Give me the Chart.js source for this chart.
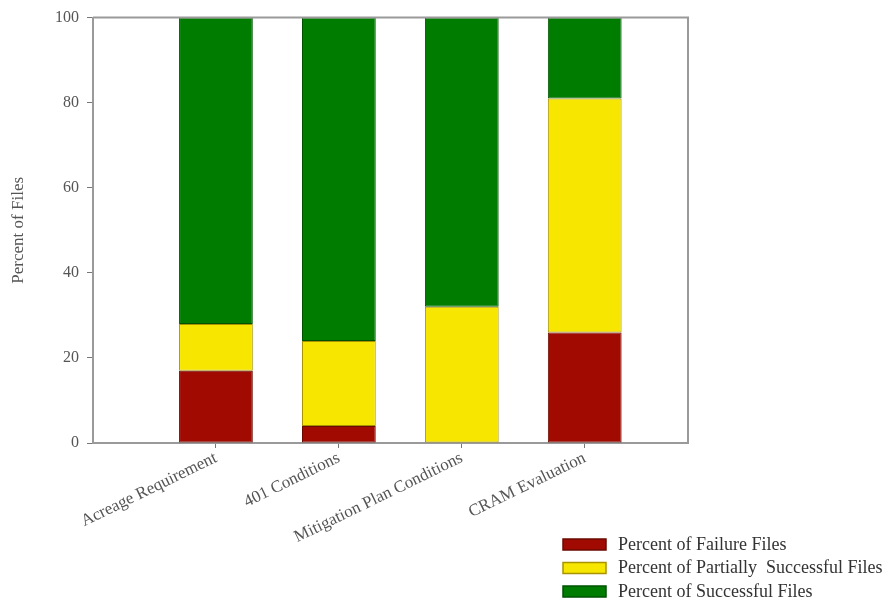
<!DOCTYPE html>
<html>
<head>
<meta charset="utf-8">
<script src="https://cdn.jsdelivr.net/npm/chart.js@4/dist/chart.umd.min.js"></script>
<style>
  html, body { margin: 0; padding: 0; background: #fff; }
  #wrap { width: 896px; height: 601px; }
</style>
</head>
<body>
<div id="wrap"><canvas id="myChart" width="896" height="601"></canvas></div>
<script>
const categories = ['Acreage Requirement', '401 Conditions', 'Mitigation Plan Conditions', 'CRAM Evaluation']
const failure = [17, 4, 0, 26]
const partial = [11, 20, 32, 55]
const success = [72, 76, 68, 19]
const yTicks = [0, 20, 40, 60, 80, 100]

const seriesNames = ['Percent of Failure Files', 'Percent of Partially  Successful Files', 'Percent of Successful Files']
const fills = ['#a00a00', '#f7e600', '#007d00']
const edges = ['#6a0a00', '#a89300', '#005200']

const serif = '"Liberation Serif", "DejaVu Serif", serif'
const gray = '#9a9a9a'

const toPoints = arr => arr.map((v, i) => ({ x: i + 1, y: v }))

// frame + legend drawn by hand, the picture has a vertical legend box bottom right
const framePlugin = {
    id: 'frame',
    afterDraw(chart) {
        const { ctx, chartArea: a } = chart
        ctx.save()
        ctx.strokeStyle = gray
        ctx.lineWidth = 2
        ctx.beginPath()
        ctx.moveTo(a.left, a.top)
        ctx.lineTo(a.right, a.top)
        ctx.lineTo(a.right, a.bottom)
        ctx.stroke()

        ctx.font = '18px ' + serif
        ctx.textBaseline = 'middle'
        chart.data.datasets.forEach((ds, i) => {
            const y = 539 + i * 23.5
            ctx.fillStyle = ds.backgroundColor
            ctx.fillRect(563, y, 43, 11)
            ctx.strokeStyle = ds.borderColor
            ctx.lineWidth = 1.5
            ctx.strokeRect(563, y, 43, 11)
            ctx.fillStyle = '#333'
            ctx.fillText(ds.label, 618, y + 6)
        })
        ctx.restore()
    }
}

const ctx = document.getElementById('myChart')

new Chart(ctx, {
    type: 'bar',
    data: {
        datasets: [failure, partial, success].map((arr, i) => ({
            label: seriesNames[i],
            data: toPoints(arr),
            backgroundColor: fills[i],
            borderColor: edges[i],
            borderWidth: 1,
            borderSkipped: false,
            barPercentage: 1,
            categoryPercentage: 0.6
        }))
    },
    options: {
        responsive: false,
        animation: false,
        layout: { padding: { left: 0, right: 208, top: 17, bottom: 0 } },
        plugins: {
            legend: { display: false },
            tooltip: { enabled: false }
        },
        scales: {
            x: {
                type: 'linear',
                stacked: true,
                offset: false,
                min: 0,
                max: 4.84,
                afterFit: s => { s.height = 158 },
                afterBuildTicks: s => { s.ticks = [0, 1, 2, 3, 4].map(v => ({ value: v })) },
                border: { color: gray, width: 2 },
                grid: {
                    offset: false,
                    drawOnChartArea: false,
                    tickLength: 5,
                    tickColor: c => (c.tick && c.tick.value > 0 ? '#777' : 'rgba(0,0,0,0)')
                },
                ticks: {
                    minRotation: 26,
                    maxRotation: 26,
                    autoSkip: false,
                    padding: 0,
                    color: '#555',
                    font: { family: serif, size: 17 },
                    callback: v => categories[v - 1] || ''
                }
            },
            y: {
                stacked: true,
                min: 0,
                max: 100,
                afterFit: s => { s.width = 93 },
                afterBuildTicks: s => { s.ticks = yTicks.map(v => ({ value: v })) },
                border: { color: gray, width: 2 },
                grid: { drawOnChartArea: false, tickLength: 6, tickColor: '#777' },
                ticks: {
                    color: '#555',
                    padding: 8,
                    font: { family: serif, size: 16 }
                },
                title: {
                    display: true,
                    text: 'Percent of Files',
                    color: '#555',
                    padding: { top: 8, bottom: 0 },
                    font: { family: serif, size: 17 }
                }
            }
        }
    },
    plugins: [framePlugin]
})
</script>
</body>
</html>
